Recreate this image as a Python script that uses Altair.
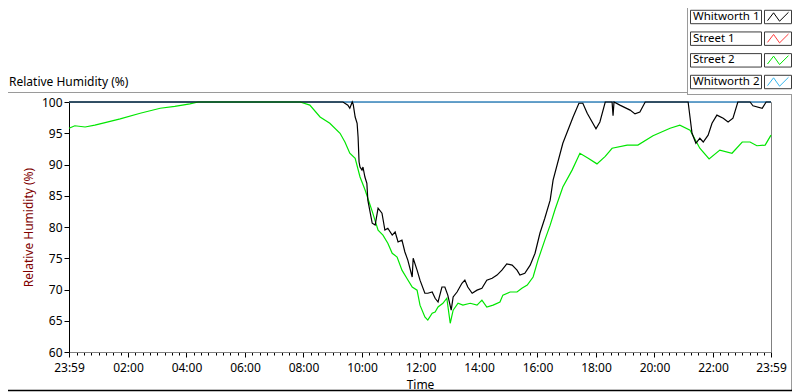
import altair as alt
import pandas as pd

# elapsed minutes since 23:59 of the previous day (0 .. 1440)
street2_min = [0, 12, 33, 53, 74, 105, 146, 187, 217, 248, 265, 474, 494, 515, 535, 556, 566, 576,
               587, 597, 607, 622, 634, 644, 654, 663, 673, 683, 693, 704, 714, 720, 730, 736, 745,
               751, 757, 767, 775, 782, 788, 798, 808, 823, 837, 847, 857, 870, 884, 890, 905, 919,
               929, 940, 952, 962, 976, 987, 997, 1013, 1032, 1048, 1065, 1083, 1100, 1114, 1145,
               1167, 1198, 1233, 1253, 1274, 1294, 1313, 1335, 1360, 1381, 1397, 1411, 1428, 1440]
street2_rh = [95.8, 96.2, 96.0, 96.3, 96.7, 97.3, 98.2, 99.0, 99.3, 99.7, 100, 100, 99.5, 97.6, 96.6,
              95.0, 93.6, 91.8, 91.0, 88.0, 86.0, 82.5, 79.5, 78.7, 77.4, 75.8, 75.2, 73.1, 71.8,
              70.4, 69.9, 67.5, 65.6, 65.1, 66.2, 66.4, 67.2, 67.8, 68.6, 64.6, 66.7, 67.8, 67.5,
              67.8, 67.5, 68.3, 67.2, 67.5, 68.0, 69.1, 69.6, 69.6, 70.2, 70.7, 72.0, 74.7, 77.9,
              80.3, 82.8, 86.4, 89.1, 91.8, 91.0, 90.1, 91.3, 92.6, 93.1, 93.1, 94.6, 95.8, 96.3,
              95.5, 92.6, 90.9, 92.3, 91.8, 93.6, 93.6, 93.0, 93.1, 94.7]

whit1_min = [0, 562, 572, 576, 581, 583, 587, 591, 593, 595, 597, 601, 603, 607, 611, 613, 622, 628,
             634, 642, 648, 654, 663, 669, 675, 683, 689, 695, 704, 706, 714, 720, 730, 736, 745,
             751, 757, 765, 771, 777, 784, 788, 796, 806, 812, 818, 827, 837, 847, 857, 868, 878,
             888, 898, 909, 919, 925, 935, 946, 956, 966, 976, 987, 993, 1013, 1034, 1046, 1054,
             1063, 1081, 1089, 1100, 1114, 1116, 1118, 1130, 1151, 1161, 1171, 1182, 1270, 1278,
             1286, 1294, 1301, 1311, 1319, 1329, 1342, 1352, 1362, 1372, 1397, 1403, 1422, 1430, 1440]
whit1_rh = [100, 100, 99.5, 99.0, 100, 99.6, 97.6, 96.6, 94.4, 90.4, 89.6, 89.1, 89.6, 88.0, 87.0,
            84.3, 80.6, 80.3, 83.0, 82.2, 79.5, 79.8, 78.7, 79.2, 77.6, 77.9, 76.0, 74.7, 72.0,
            75.0, 73.1, 71.5, 69.4, 69.4, 69.6, 68.6, 68.0, 70.4, 70.4, 69.1, 66.7, 68.8, 69.6,
            71.0, 71.5, 70.4, 69.4, 69.9, 70.2, 71.5, 71.8, 72.3, 73.1, 74.1, 73.9, 73.1, 72.3,
            72.6, 73.9, 75.8, 79.0, 81.4, 84.3, 87.5, 93.4, 97.6, 99.8, 99.8, 98.2, 95.7, 96.8,
            100, 100, 97.8, 100, 99.5, 98.7, 98.1, 98.4, 100, 100, 95.0, 93.4, 94.2, 93.6, 94.7,
            96.6, 97.9, 97.4, 96.8, 97.4, 100, 100, 99.4, 99.0, 100, 100]

street1_min = [0, 1440]
street1_rh = [100, 100]
whit2_min = [0, 1440]
whit2_rh = [100, 100]

series_names = ["Whitworth 1", "Street 1", "Street 2", "Whitworth 2"]
series_colors = ["#000000", "#ff3b3b", "#00e600", "#35b6ee"]
y_ticks = [60, 65, 70, 75, 80, 85, 90, 95, 100]
x_ticks = [0] + [1 + 15 * k for k in range(1, 96)] + [1440]
chart_label = "Relative Humidity (%)"

FONT = "Noto Sans"

x_scale = alt.Scale(domain=[0, 1440], nice=False, zero=False)
y_scale = alt.Scale(domain=[60, 100], nice=False, zero=False)

major_test = "datum.value == 0 || datum.value == 1440 || (datum.value - 1) % 120 == 0"
label_expr = ("(datum.value == 0 || datum.value == 1440) ? '23:59' : "
              "((datum.value - 1) % 120 == 0 ? ((((datum.value - 1) / 60) < 10 ? '0' : '') "
              "+ ((datum.value - 1) / 60) + ':00') : '')")

x_axis = alt.Axis(values=x_ticks, labelExpr=label_expr, title="Time", labelFlush=False,
                  labelOverlap=False, grid=False, domainColor="#808080", tickColor="#000000",
                  tickSize={"condition": {"test": major_test, "value": 5}, "value": 3},
                  labelPadding=5, titlePadding=6, labelFont=FONT, titleFont=FONT,
                  labelFontSize=12, titleFontSize=12, titleFontWeight="normal",
                  labelColor="#000000", titleColor="#000000")
y_axis = alt.Axis(values=y_ticks, title=chart_label, grid=False, domainColor="#000000",
                  tickColor="#000000", tickSize=5, labelPadding=2, titlePadding=6,
                  labelFont=FONT, titleFont=FONT, labelFontSize=12, titleFontSize=12,
                  titleFontWeight="normal", labelColor="#000000", titleColor="#800000")


def line_layer(mins, vals, color, width):
    df = pd.DataFrame({"m": mins, "rh": vals})
    return alt.Chart(df).mark_line(color=color, strokeWidth=width, interpolate="linear").encode(
        x=alt.X("m:Q", scale=x_scale, axis=x_axis),
        y=alt.Y("rh:Q", scale=y_scale, axis=y_axis),
    )


main = alt.layer(
    line_layer(street1_min, street1_rh, series_colors[1], 1.5),
    line_layer(whit2_min, whit2_rh, series_colors[3], 1.5),
    line_layer(street2_min, street2_rh, series_colors[2], 1.2),
    line_layer(whit1_min, whit1_rh, series_colors[0], 1.2),
)

leg_df = pd.DataFrame({"name": series_names, "row": list(range(len(series_names)))})
leg_y = alt.Scale(domain=[0, 3], range=[-85, -20], zero=False, nice=False)
color_scale = alt.Scale(domain=series_names, range=series_colors)
leg_base = alt.Chart(leg_df).transform_calculate(top="datum.row - 0.31", bot="datum.row + 0.31")

name_box = leg_base.mark_rect(fill="white", stroke="#3c3c3c", strokeWidth=1).encode(
    x=alt.value(621.5), x2=alt.value(692.5),
    y=alt.Y("top:Q", scale=leg_y, axis=None), y2="bot:Q")
glyph_box = leg_base.mark_rect(fill="white", stroke="#3c3c3c", strokeWidth=1).encode(
    x=alt.value(695.5), x2=alt.value(722.5),
    y=alt.Y("top:Q", scale=leg_y, axis=None), y2="bot:Q")
names = leg_base.mark_text(align="left", baseline="middle", font=FONT, fontSize=11.5,
                           color="#000000").encode(
    x=alt.value(624), y=alt.Y("row:Q", scale=leg_y, axis=None), text="name:N")
glyph = leg_base.mark_point(
    shape="M-1,0.35L-0.42,-0.4L0.15,0.4L1,-0.45", filled=False, strokeWidth=1, size=441,
    opacity=1).encode(
    x=alt.value(709), y=alt.Y("row:Q", scale=leg_y, axis=None),
    color=alt.Color("name:N", scale=color_scale, legend=None))

legend_layer = alt.layer(name_box, glyph_box, names, glyph)

one = pd.DataFrame({"t": [chart_label]})
top_label = alt.Chart(one).mark_text(align="left", baseline="alphabetic", font=FONT,
                                     fontSize=12, color="#000000").encode(
    x=alt.value(-60), y=alt.value(-16), text="t:N")

gray = "#9a9a9a"
frame = alt.layer(
    alt.Chart(one).mark_rule(color=gray, strokeWidth=1).encode(
        x=alt.value(-61), x2=alt.value(618), y=alt.value(-9.5)),
    alt.Chart(one).mark_rule(color=gray, strokeWidth=1).encode(
        x=alt.value(618.5), y=alt.value(-94), y2=alt.value(-7)),
    alt.Chart(one).mark_rule(color=gray, strokeWidth=1).encode(
        x=alt.value(618), x2=alt.value(723), y=alt.value(-7.5)),
    alt.Chart(one).mark_rule(color=gray, strokeWidth=1).encode(
        x=alt.value(722.5), y=alt.value(-7), y2=alt.value(288)),
    alt.Chart(one).mark_rule(color="#000000", strokeWidth=1.5).encode(
        x=alt.value(-61), x2=alt.value(723), y=alt.value(288.5)),
)

chart = alt.layer(main, legend_layer, top_label, frame).resolve_scale(
    y="independent", color="independent"
).properties(
    width=702, height=250,
    autosize=alt.AutoSizeParams(type="none"),
    padding={"left": 61, "top": 94, "right": 21, "bottom": 40},
    background="white",
).configure_view(stroke="#808080", strokeWidth=1)

chart.save("out.html", embed_options={"renderer": "svg", "actions": False})
